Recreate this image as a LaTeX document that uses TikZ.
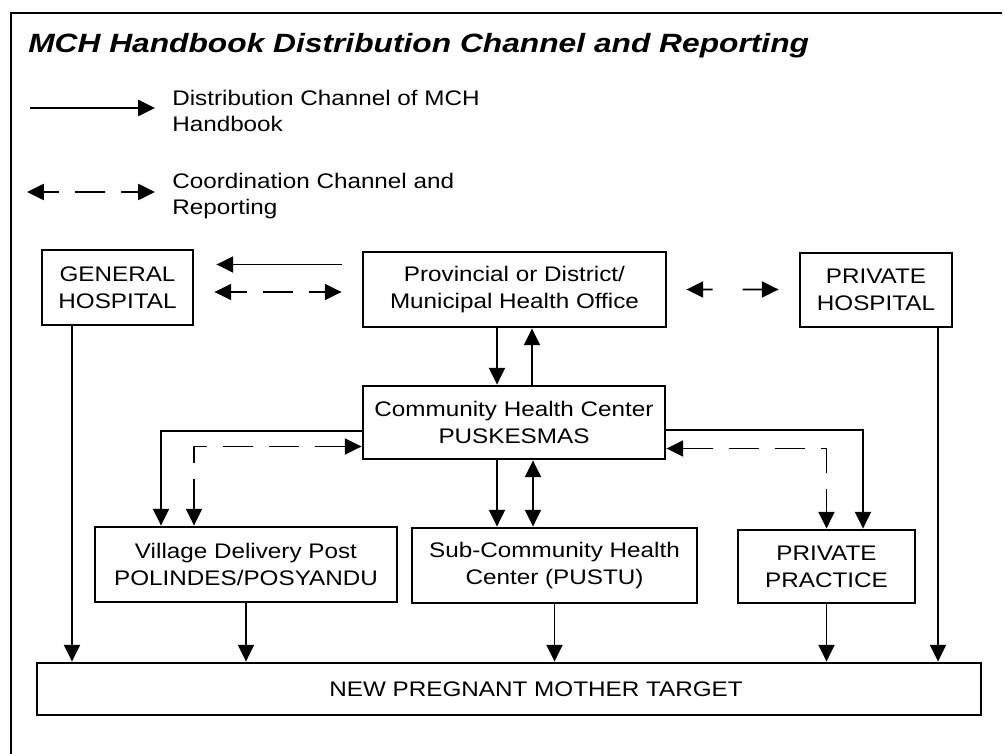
\documentclass[tikz,border=0pt]{standalone}
\usepackage{fontspec}
\setmainfont{Liberation Sans}[FakeStretch=1.15]
\newfontfamily\titlefont{Liberation Sans}[FakeStretch=1.2]
\usetikzlibrary{arrows.meta}

\def\px{0.025cm}

\tikzset{
  box/.style={draw, line width=2pt, align=center, inner sep=0pt},
  dist/.style={line width=1.4pt, >={Triangle[length=0.42cm,width=0.4cm]}},
  coord/.style={dist, dash pattern=on 0.75cm off 0.4cm},
}

\begin{document}
\begin{tikzpicture}[x=\px, y=-\px, font=\fontsize{15}{19}\selectfont]

\useasboundingbox (0,0) rectangle (1005,754);
\clip (0,0) rectangle (1005,754);

% Frame and title
\draw[line width=1.5pt] (1002,13) -- (11,13) -- (11,760);
\node[anchor=base west, inner sep=0pt] (title) at (28,53)
  {\titlefont\fontsize{18.8}{22}\selectfont\bfseries\itshape MCH Handbook Distribution Channel and Reporting};

% Legend
\coordinate (legdistA) at (30,108);
\coordinate (legdistB) at (155,108);
\coordinate (legcoordA) at (27,192);
\coordinate (legcoordB) at (155,192);
\draw[dist,->] (legdistA) -- (legdistB);
\draw[coord,<->,dash phase=0.35cm] (legcoordA) -- (legcoordB);
\node[anchor=west, align=left, inner sep=0pt] (legdist) at (172,111) {Distribution Channel of MCH\\Handbook};
\node[anchor=west, align=left, inner sep=0pt] (legcoord) at (172,196) {Coordination Channel and\\Reporting};

% Offices and facilities
\node[box, minimum width=151*\px, minimum height=75*\px] (genhosp) at (117.5,287.5) {GENERAL\\HOSPITAL};
\node[box, minimum width=303*\px, minimum height=75*\px] (office) at (514.5,289.5) {Provincial or District/\\Municipal Health Office};
\node[box, minimum width=152*\px, minimum height=74*\px] (privhosp) at (876,290) {PRIVATE\\HOSPITAL};
\node[box, minimum width=302*\px, minimum height=73*\px] (puskesmas) at (514,422.5) {Community Health Center\\PUSKESMAS};
\node[box, minimum width=302*\px, minimum height=75*\px] (village) at (246,564.5) {Village Delivery Post\\POLINDES/POSYANDU};
\node[box, minimum width=285*\px, minimum height=75*\px] (pustu) at (554.5,565.5) {Sub-Community Health\\Center (PUSTU)};
\node[box, minimum width=177*\px, minimum height=73*\px] (practice) at (826.5,566.5) {PRIVATE\\PRACTICE};
\node[box, minimum width=944*\px, minimum height=52*\px] (target) at (509,689) {\hspace*{1.35cm}NEW PREGNANT MOTHER TARGET};

% Top row
\draw[dist,->] ([shift={(-20,-25)}]office.west) -- ([shift={(22,-23)}]genhosp.east);
\draw[coord,<->,dash phase=0.35cm] ([shift={(20,4.5)}]genhosp.east) -- ([shift={(-20,2.5)}]office.west);
\draw[dist,<->,dash pattern=on 0.25cm off 0.75cm on 0.55cm off 1cm] ([shift={(19,0)}]office.east) -- ([shift={(-20,-0.5)}]privhosp.west);

% Hospitals straight down to the target
\draw[dist,->] ([shift={(-45.5,0)}]genhosp.south) -- ([shift={(-45.5,0)}]genhosp.south |- target.north);
\draw[dist,->] ([shift={(62,0)}]privhosp.south) -- ([shift={(62,0)}]privhosp.south |- target.north);

% Office <-> Puskesmas
\draw[dist,->] ([shift={(-17.5,0)}]office.south) -- ([shift={(-17.5,0)}]office.south |- puskesmas.north);
\draw[dist,->] ([shift={(18,0)}]puskesmas.north) -- ([shift={(18,0)}]puskesmas.north |- office.south);

% Puskesmas to the village, sub-center and private practice
\draw[dist,->] ([shift={(-17,0)}]puskesmas.south) -- ([shift={(-17,0)}]puskesmas.south |- pustu.north);
\draw[dist,<->] ([shift={(19,0)}]puskesmas.south) -- ([shift={(19,0)}]puskesmas.south |- pustu.north);
\draw[dist,->] ([shift={(0,8.5)}]puskesmas.west) -| ([shift={(-85,0)}]village.north);
\draw[coord,<->] ([shift={(-52,0)}]village.north) |- ([shift={(0,24)}]puskesmas.west);
\draw[dist,->] ([shift={(0,7.5)}]puskesmas.east) -| ([shift={(36.5,0)}]practice.north);
\draw[coord,<->] ([shift={(0,26)}]puskesmas.east) -| (practice.north);

% Down to the target
\draw[dist,->] (village.south) -- (village.south |- target.north);
\draw[dist,->] (pustu.south) -- (pustu.south |- target.north);
\draw[dist,->] (practice.south) -- (practice.south |- target.north);

\end{tikzpicture}
\end{document}
